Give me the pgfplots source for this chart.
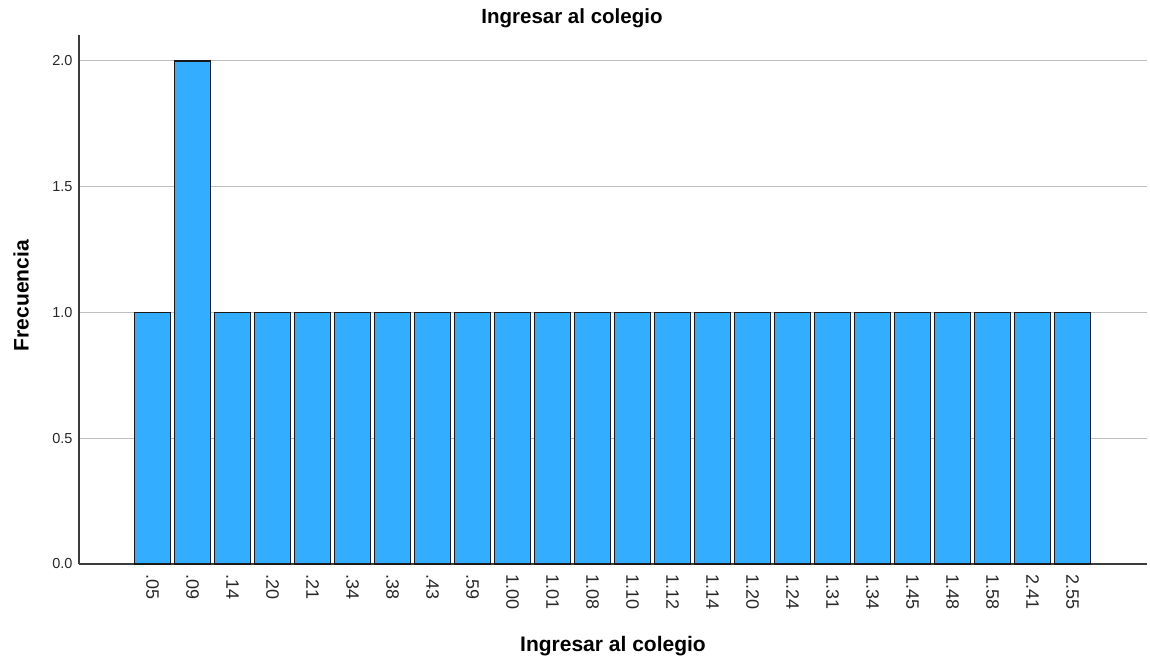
\documentclass[border=0pt]{standalone}
\usepackage{fontspec}
\setmainfont{Liberation Sans}
\usepackage{pgfplots}
\pgfplotsset{compat=1.18}
\definecolor{barblue}{RGB}{51,173,255}
\definecolor{gridgray}{RGB}{190,190,190}
\definecolor{axgray}{RGB}{60,60,60}
\definecolor{tickgray}{RGB}{40,40,40}
\begin{document}
\begin{tikzpicture}
\useasboundingbox (-79pt,-100pt) rectangle (1071pt,564pt);
\begin{axis}[
  at={(0pt,0pt)}, anchor=south west,
  scale only axis,
  width=1068pt, height=529pt,
  xmin=-1.84, xmax=24.86,
  ymin=0, ymax=2.103,
  axis x line*=bottom, axis y line*=left,
  axis line style={axgray, line width=1.2pt, -},
  xtick={0,...,23},
  xticklabels={.05,.09,.14,.20,.21,.34,.38,.43,.59,1.00,1.01,1.08,1.10,1.12,1.14,1.20,1.24,1.31,1.34,1.45,1.48,1.58,2.41,2.55},
  xticklabel style={rotate=-90, anchor=west, font=\fontsize{18}{18}\selectfont, text=tickgray},
  ytick={0,0.5,1,1.5,2},
  yticklabel style={font=\fontsize{14.5}{14.5}\selectfont, text=tickgray},
  yticklabel={\pgfmathprintnumber[fixed,fixed zerofill,precision=1]{\tick}},
  /pgf/number format/assume math mode=true,
  major tick length=0pt,
  xticklabel shift=7pt,
  yticklabel shift=3pt,
  ymajorgrids, grid style={gridgray, line width=0.9pt},
  title={\textbf{Ingresar al colegio}},
  title style={at={(axis description cs:0.5,1)}, anchor=center, xshift=-41pt, yshift=11pt, font=\fontsize{20.5}{20.5}\selectfont},
  xlabel={\textbf{Ingresar al colegio}},
  xlabel style={at={(axis description cs:0.5,0)}, anchor=center, yshift=-82pt, font=\fontsize{21}{21}\selectfont},
  ylabel={\textbf{Frecuencia}},
  ylabel style={at={(axis description cs:0,0.5)}, anchor=center, yshift=58pt, xshift=4pt, font=\fontsize{21}{21}\selectfont},
  clip=false,
]
\addplot[ybar, bar width=36pt, fill=barblue, draw=black!90, line width=1.3pt] coordinates {
(0,1) (1,2) (2,1) (3,1) (4,1) (5,1) (6,1) (7,1) (8,1) (9,1) (10,1) (11,1)
(12,1) (13,1) (14,1) (15,1) (16,1) (17,1) (18,1) (19,1) (20,1) (21,1) (22,1) (23,1)
};
\end{axis}
\end{tikzpicture}
\end{document}
